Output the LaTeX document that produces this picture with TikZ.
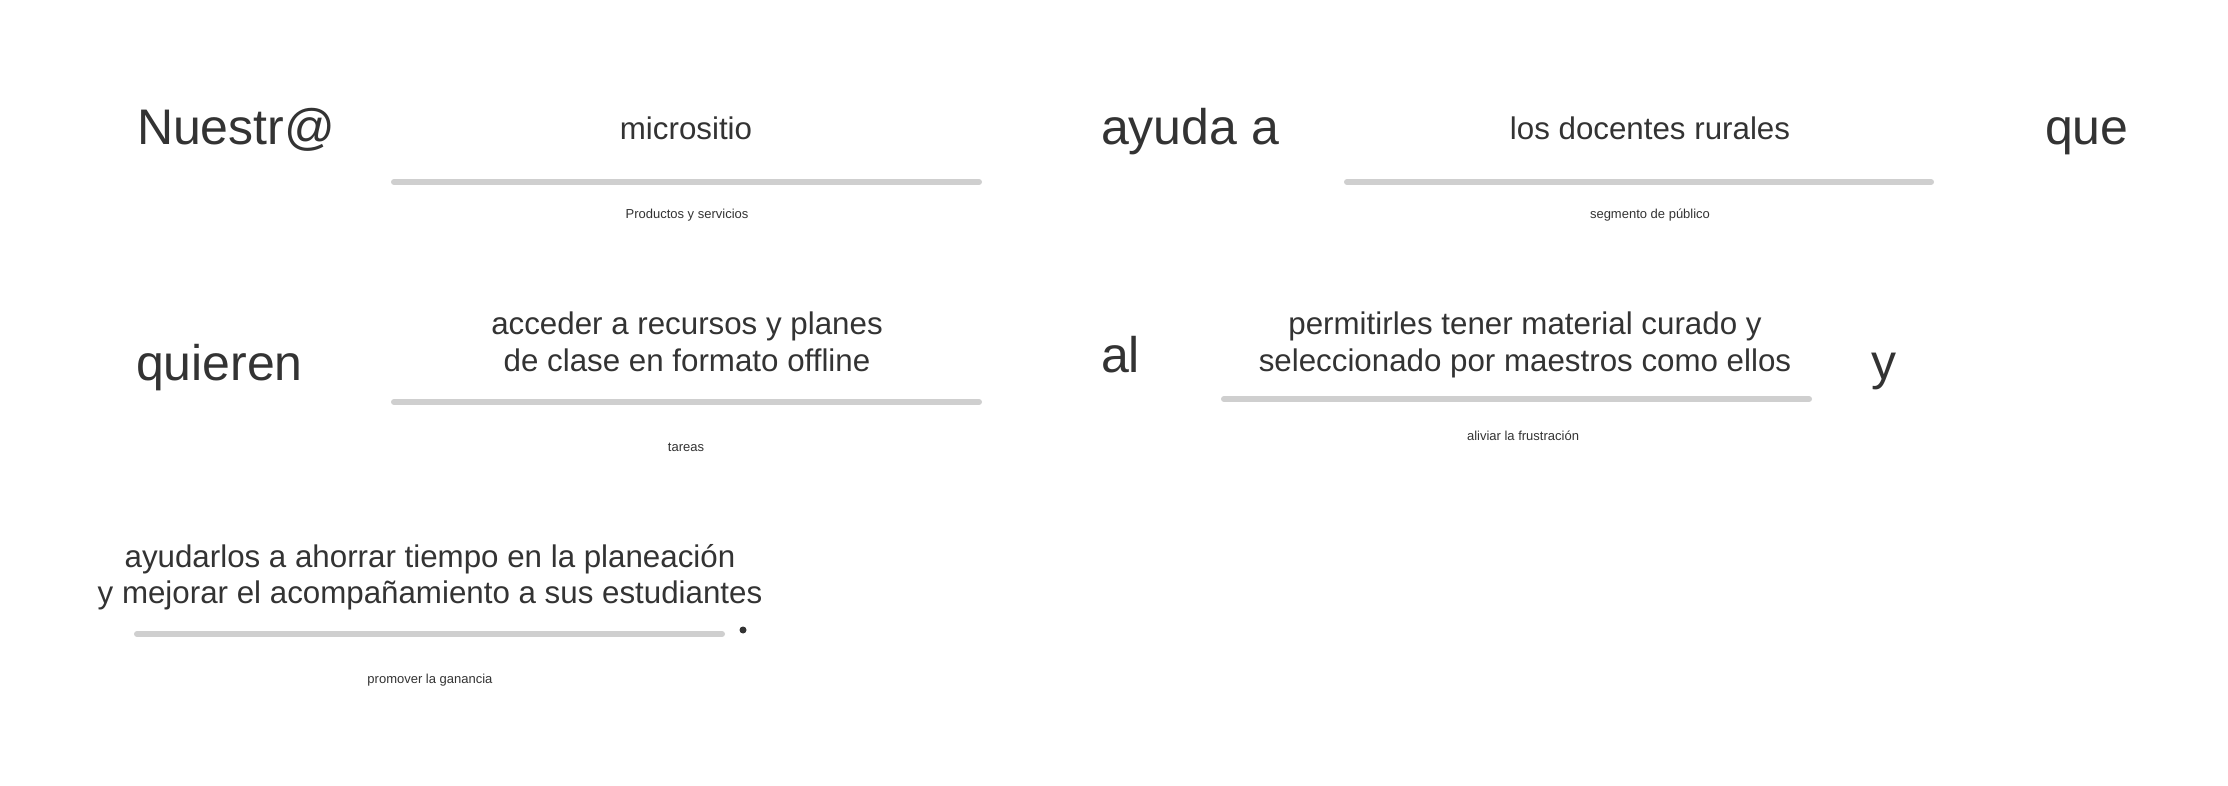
\documentclass[tikz,border=0pt]{standalone}
\usepackage{fontspec}
\setmainfont{Liberation Sans}
\definecolor{ink}{HTML}{333333}
\definecolor{barc}{HTML}{CFCFCF}
\begin{document}
\begin{tikzpicture}[x=1pt,y=-1pt,
  every node/.style={inner sep=0pt,outer sep=0pt,text=ink},
  big/.style={font=\fontsize{50}{58}\selectfont},
  mid/.style={font=\fontsize{31.3}{36}\selectfont,align=center},
  small/.style={font=\fontsize{13}{15}\selectfont},
  bar/.style={draw=barc,line width=6pt,line cap=round}]
\useasboundingbox[fill=white] (0,0) rectangle (2228,786);
% row 1
\node[big,anchor=base west] (nuestra) at (137,145) {Nuestr@};
\node[mid,anchor=base] (micro) at (686,140) {micrositio};
\coordinate (b1a) at (394,182); \coordinate (b1b) at (979,182);
\draw[bar] (b1a) -- (b1b);
\node[small,anchor=base] (prod) at (687,219) {Productos y servicios};
\node[big,anchor=base west] (ayuda) at (1101,145) {ayuda a};
\node[mid,anchor=base] (docentes) at (1650,140) {los docentes rurales};
\coordinate (b2a) at (1347,182); \coordinate (b2b) at (1931,182);
\draw[bar] (b2a) -- (b2b);
\node[small,anchor=base] (segmento) at (1650,219) {segmento de público};
\node[big,anchor=base west] (que) at (2045,145) {que};
% row 2
\node[big,anchor=base west] (quieren) at (136,380) {quieren};
\node[mid,anchor=base] (acceder) at (687,371) {acceder a recursos y planes\\de clase en formato offline};
\coordinate (b3a) at (394,402); \coordinate (b3b) at (979,402);
\draw[bar] (b3a) -- (b3b);
\node[small,anchor=base] (tareas) at (686,451) {tareas};
\node[big,anchor=base west] (al) at (1101,373) {al};
\node[mid,anchor=base] (permitir) at (1525,371) {permitirles tener material curado y\\seleccionado por maestros como ellos};
\coordinate (b4a) at (1224,399); \coordinate (b4b) at (1809,399);
\draw[bar] (b4a) -- (b4b);
\node[small,anchor=base] (aliviar) at (1523,440) {aliviar la frustración};
\node[big,anchor=base west] (yy) at (1871,379) {y};
% row 3
\node[mid,anchor=base] (ayudarlos) at (430,603) {ayudarlos a ahorrar tiempo en la planeación\\y mejorar el acompañamiento a sus estudiantes};
\coordinate (b5a) at (137,634); \coordinate (b5b) at (722,634);
\draw[bar] (b5a) -- (b5b);
\node[circle,fill=ink,minimum size=7pt] (dot) at (743,630) {};
\node[small,anchor=base] (promover) at (430,683) {promover la ganancia};
\end{tikzpicture}
\end{document}
